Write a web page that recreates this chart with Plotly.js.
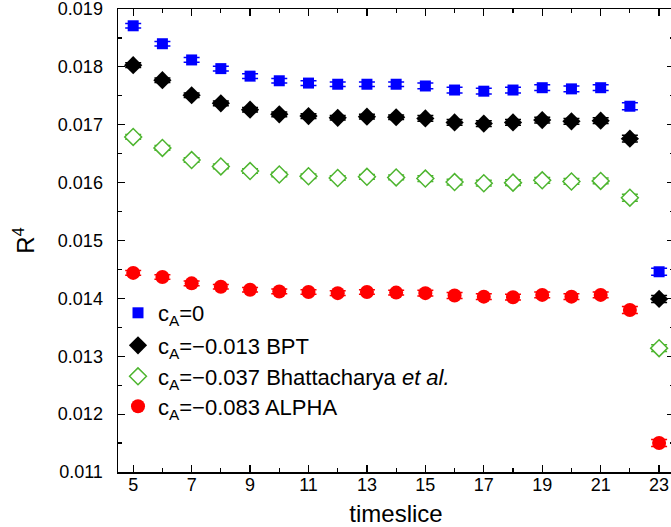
<!DOCTYPE html>
<html>
<head>
<meta charset="utf-8">
<script src="https://cdn.plot.ly/plotly-3.0.1.min.js"></script>
<style>html,body{margin:0;padding:0;overflow:hidden;background:#fff;}</style>
</head>
<body>
<div id="chart"></div>
<script>
const timeslice = [5,6,7,8,9,10,11,12,13,14,15,16,17,18,19,20,21,22,23];
const cA0     = [0.01871,0.01840,0.01812,0.01797,0.01784,0.01776,0.01772,0.01770,0.01770,0.01770,0.01767,0.01760,0.01758,0.01760,0.01764,0.01762,0.01764,0.01732,0.01446];
const cABPT   = [0.01803,0.01777,0.01751,0.01737,0.01726,0.01718,0.01715,0.01712,0.01714,0.01713,0.01711,0.01704,0.01702,0.01704,0.01708,0.01706,0.01707,0.01676,0.01399];
const cABhat  = [0.01679,0.01660,0.01639,0.01628,0.01620,0.01614,0.01611,0.01608,0.01610,0.01609,0.01607,0.01601,0.01599,0.01600,0.01604,0.01602,0.01603,0.01574,0.01314];
const cAALPHA = [0.01444,0.01437,0.01426,0.01420,0.01415,0.01412,0.01411,0.01409,0.01411,0.01410,0.01409,0.01405,0.01403,0.01402,0.01406,0.01403,0.01406,0.01380,0.01150];
const errAll  = [0.00004,0.00004,0.00004,0.00004,0.00004,0.00004,0.00004,0.00004,0.00004,0.00004,0.00005,0.00005,0.00005,0.00005,0.00005,0.00005,0.00005,0.00006,0.00006];
const names = ['c<sub>A</sub>=0','c<sub>A</sub>=\u22120.013 BPT','c<sub>A</sub>=\u22120.037 Bhattacharya <i>et al.</i>','c<sub>A</sub>=\u22120.083 ALPHA'];
const xTickVals = [5,7,9,11,13,15,17,19,21,23];
const yTickVals = [0.011,0.012,0.013,0.014,0.015,0.016,0.017,0.018,0.019];

const FONT = 'Liberation Sans, Arial, sans-serif';
function tr(y, name, color, symbol, size, lw, fill, legendId){
  return {
    x: timeslice, y: y, name: name, type: 'scatter', mode: 'markers',
    legend: legendId, showlegend: true,
    marker: {color: fill, symbol: symbol, size: size, line: {color: color, width: lw}},
    error_y: {type: 'data', array: errAll, visible: true, color: color, thickness: 1.5, width: 8},
    cliponaxis: true
  };
}
const data = [
  tr(cA0, names[0], '#0000ff', 'square', 11, 0, '#0000ff', 'legend2'),
  tr(cABPT, names[1], '#000000', 'diamond', 14, 0, '#000000', 'legend3'),
  tr(cABhat, names[2], '#4db52f', 'diamond', 13, 1.5, '#ffffff', 'legend4'),
  tr(cAALPHA, names[3], '#ff0000', 'circle', 14, 0, '#ff0000', 'legend5')
];
const axisCommon = {
  showgrid: false, zeroline: false, showline: true, linecolor: '#000', linewidth: 1.5,
  ticks: 'inside', ticklen: 7, tickwidth: 1.2, tickcolor: '#000', mirror: 'ticks',
  ticklabeloverflow: 'allow',
  tickfont: {family: FONT, size: 18, color: '#000'}
};
function leg(yc){
  return {x: 0, xanchor: 'left', y: (472 - yc) / 463, yanchor: 'middle', bgcolor: 'rgba(0,0,0,0)',
          font: {family: FONT, size: 22, color: '#000'}};
}
const layout = {
  width: 674, height: 527,
  margin: {l: 118, r: 0, t: 9, b: 55},
  paper_bgcolor: '#fff', plot_bgcolor: '#fff',
  font: {family: FONT, color: '#000'},
  showlegend: true,
  legend2: leg(313), legend3: leg(345.5), legend4: leg(376.5), legend5: leg(406.5),
  xaxis: Object.assign({}, axisCommon, {
    range: [4.48, 23.51], tickvals: xTickVals, ticktext: xTickVals.map(String),
    ticklabelstandoff: -4,
    minor: {dtick: 1, tick0: 5, ticklen: 4, tickcolor: '#000', tickwidth: 1.2, ticks: 'inside'},
    title: {text: 'timeslice', font: {family: FONT, size: 24, color: '#000'}, standoff: 13}
  }),
  yaxis: Object.assign({}, axisCommon, {
    range: [0.011, 0.0190001], tickvals: yTickVals, ticktext: yTickVals.map(v => v.toFixed(3)),
    ticklabelstandoff: 10,
    minor: {dtick: 0.0005, tick0: 0.011, ticklen: 4, tickcolor: '#000', tickwidth: 1.2, ticks: 'inside'},
    title: {text: 'R<sup>4</sup>', font: {family: FONT, size: 24, color: '#000'}, standoff: 16}
  })
};
Plotly.newPlot('chart', data, layout, {displayModeBar: false, staticPlot: true});
</script>
</body>
</html>
